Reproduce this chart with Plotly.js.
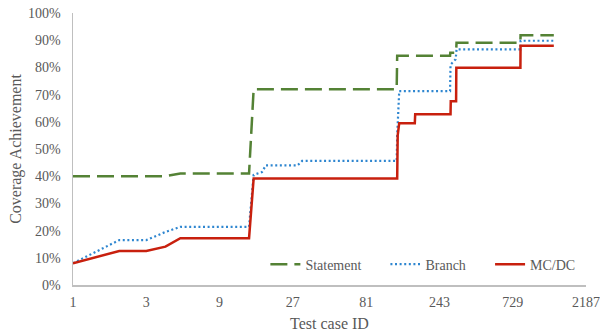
<!DOCTYPE html>
<html>
<head>
<meta charset="utf-8">
<script src="https://cdn.plot.ly/plotly-3.0.1.min.js"></script>
<style>html,body{margin:0;padding:0;background:#fff}#chart{width:600px;height:334px}</style>
</head>
<body>
<div id="chart"></div>
<script>
// Test case IDs (x) and coverage achievement in % (y)
const statementX = [1, 4, 5, 14, 15, 128, 129, 285, 286, 312, 314, 818, 820, 1350];
const statementY = [40, 40, 41, 41, 72, 72, 84.3, 84.3, 85.4, 85.4, 89.1, 89.1, 91.8, 91.8];

const branchX = [1, 2, 3, 4, 5, 14, 15, 17, 18, 29, 31, 128, 129, 133, 285, 287, 310, 314, 818, 820, 1350];
const branchY = [8, 16.5, 16.5, 19.5, 21.4, 21.4, 40.5, 41.5, 44, 44, 45.6, 45.6, 55, 71.3, 71.3, 81, 83, 86.6, 86.6, 89.8, 89.8];

const mcdcX = [1, 2, 3, 4, 5, 14, 15, 129, 130, 133, 168, 169, 287, 288, 312, 313, 818, 820, 1350];
const mcdcY = [8, 12.5, 12.5, 14.1, 17.2, 17.2, 39.2, 39.2, 55, 59.5, 59.5, 62.8, 62.8, 67.6, 67.6, 79.9, 79.9, 88, 88];

const xTickVals = [1, 3, 9, 27, 81, 243, 729, 2187];
const xTickText = ["1", "3", "9", "27", "81", "243", "729", "2187"];

const seriesNames = ["Statement", "Branch", "MC/DC"];

const font = "Liberation Serif, Times New Roman, serif";
const gray = "#595959";

const traces = [
  {x: statementX, y: statementY, name: seriesNames[0], type: "scatter", mode: "lines", legend: "legend",
   line: {color: "#548235", width: 2.5, dash: "17px,7px"}},
  {x: branchX, y: branchY, name: seriesNames[1], type: "scatter", mode: "lines", legend: "legend2",
   line: {color: "#2e86d0", width: 2.2, dash: "2px,2.6px"}},
  {x: mcdcX, y: mcdcY, name: seriesNames[2], type: "scatter", mode: "lines", legend: "legend3",
   line: {color: "#c8200e", width: 2.5}}
];

function legendAt(xf) {
  return {orientation: "h", x: xf, y: 0.075, xanchor: "left", yanchor: "middle",
          font: {family: font, size: 14, color: gray}, bgcolor: "rgba(0,0,0,0)"};
}

const layout = {
  width: 600, height: 334,
  margin: {l: 73, r: 14, t: 13, b: 49},
  paper_bgcolor: "#fff", plot_bgcolor: "#fff",
  font: {family: font, color: gray, size: 14},
  showlegend: true,
  legend: legendAt(0.375),
  legend2: legendAt(0.609),
  legend3: legendAt(0.813),
  xaxis: {type: "log", range: [0, Math.log10(2187)], tickvals: xTickVals, ticktext: xTickText,
          showgrid: false, zeroline: false, showline: true, linecolor: "#bfbfbf", linewidth: 1.5,
          ticks: "", ticklabelstandoff: 4, tickfont: {family: font, size: 14, color: gray},
          title: {text: "Test case ID", font: {family: font, size: 16, color: gray}, standoff: 8}},
  yaxis: {range: [0, 100], dtick: 10, ticksuffix: "%", showgrid: false, zeroline: false,
          showline: true, linecolor: "#bfbfbf", linewidth: 1.5, ticks: "", ticklabelstandoff: 8,
          tickfont: {family: font, size: 14, color: gray},
          title: {text: "Coverage Achievement", font: {family: font, size: 16, color: gray}, standoff: 2}}
};

Plotly.newPlot("chart", traces, layout, {displayModeBar: false, staticPlot: true});
</script>
</body>
</html>
